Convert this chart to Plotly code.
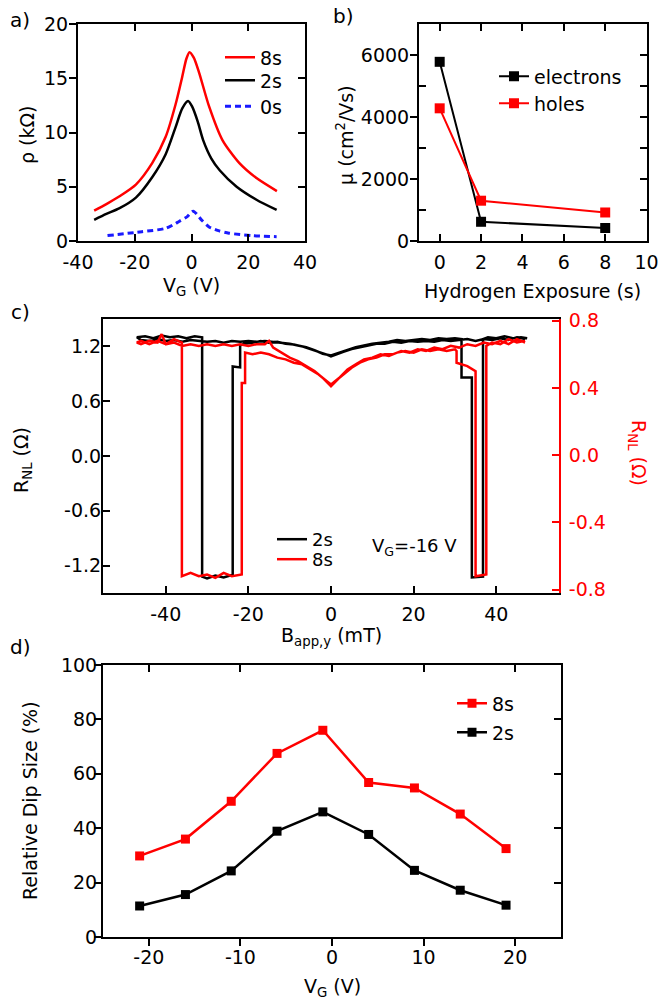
import plotly.graph_objects as go

W, H = 659, 1001
FONT = "DejaVu Sans, Liberation Sans, Arial"
RED = "#ff0000"
BLUE = "#1a1aff"

# ---------------- panel a data ----------------
a_x_8s = [-34.3, -30.0, -25.5, -19.6, -13.8, -9.1, -5.6, -3.3, -1.8, -0.7, 0.8, 2.7, 6.2, 10.9, 16.8, 22.9, 30.1]
a_y_8s = [2.8, 3.4, 4.1, 5.2, 7.2, 9.6, 12.6, 15.1, 16.8, 17.4, 16.9, 15.5, 12.4, 9.3, 7.2, 5.8, 4.6]
a_x_2s = [-34.3, -30.0, -25.5, -19.6, -13.8, -9.1, -5.6, -3.3, -1.2, 0.2, 2.2, 4.1, 7.0, 10.0, 15.9, 22.9, 30.0]
a_y_2s = [1.95, 2.5, 3.0, 4.0, 5.9, 8.0, 10.5, 12.2, 12.9, 12.4, 11.0, 9.3, 7.6, 6.5, 5.0, 3.8, 2.86]
a_x_0s = [-29.6, -17.5, -9.1, -4.4, -1.5, 0.6, 3.5, 6.2, 9.5, 13.2, 21.5, 30.0]
a_y_0s = [0.5, 0.86, 1.17, 1.8, 2.25, 2.75, 1.95, 1.3, 0.95, 0.72, 0.5, 0.4]
a_xticks = [-40, -20, 0, 20, 40]
a_xticktext = ["-40", "-20", "0", "20", "40"]
a_yticks = [0, 5, 10, 15, 20]

# ---------------- panel b data ----------------
b_exposure = [0, 2, 8]
b_electrons = [5780, 620, 420]
b_holes = [4280, 1300, 920]
b_xticks = [0, 2, 4, 6, 8, 10]
b_xticktext = ["0", "2", "4", "6", "8", "10"]
b_yticks = [0, 2000, 4000, 6000]
b_yminor = [1000, 3000, 5000]

# ---------------- panel c data ----------------
# 2s (left axis): sweep down then sweep up
c2_field_down = [47, 45, 43, 41, 39, 37, 35, 33, 31, 29, 27, 25, 23, 21, 19, 17, 15, 13, 11, 9, 7, 5, 3, 1, 0,
                 -1, -3, -5, -7, -9, -11, -13, -15, -17, -19, -21, -22, -22, -23.8, -23.8, -26, -28, -30,
                 -31.2, -31.2, -33, -35, -37, -39, -41, -43, -45, -47]
c2_rnl_down = [1.28, 1.30, 1.27, 1.29, 1.27, 1.28, 1.26, 1.28, 1.27, 1.26, 1.27, 1.25, 1.26, 1.25, 1.26, 1.24,
               1.25, 1.23, 1.23, 1.21, 1.19, 1.17, 1.14, 1.11, 1.09,
               1.11, 1.14, 1.17, 1.20, 1.22, 1.23, 1.25, 1.24, 1.26, 1.24, 1.23, 1.21, 0.97, 0.98, -1.30,
               -1.33, -1.31, -1.34, -1.32, 1.30, 1.31, 1.29, 1.31, 1.30, 1.32, 1.29, 1.31, 1.30]
c2_field_up = [-46, -44, -42, -40, -38, -36, -34, -32, -30, -28, -26, -24, -22, -20, -18, -16, -14, -12, -10,
               -8, -6, -4, -2, 0, 2, 4, 6, 8, 10, 12, 14, 16, 18, 20, 22, 24, 26, 28, 30, 31.6, 31.6, 34.1,
               34.1, 36.8, 36.8, 38, 40, 42, 44, 46, 47.5]
c2_rnl_up = [1.27, 1.26, 1.28, 1.26, 1.27, 1.25, 1.27, 1.26, 1.25, 1.26, 1.24, 1.26, 1.25, 1.26, 1.25, 1.26,
             1.25, 1.24, 1.23, 1.21, 1.19, 1.16, 1.12, 1.10, 1.13, 1.16, 1.19, 1.21, 1.23, 1.24, 1.25, 1.27,
             1.26, 1.27, 1.28, 1.27, 1.29, 1.28, 1.29, 1.28, 0.86, 0.86, -1.33, -1.32, 1.28, 1.30, 1.29,
             1.31, 1.29, 1.30, 1.29]
# 8s (right axis)
c8_field_down = [47, 45, 43, 41, 39, 37, 35, 33, 31, 29, 27, 25, 23, 21, 19, 17, 15, 13, 11, 9, 7, 5, 3, 1, 0,
                 -1, -3, -5, -7, -9, -11, -13, -15, -17, -19, -20.8, -20.8, -21.6, -21.6, -24, -26, -28, -30,
                 -32, -34, -36.1, -36.1, -38, -40, -42, -44, -46, -47]
c8_rnl_down = [0.67, 0.69, 0.66, 0.68, 0.66, 0.67, 0.65, 0.66, 0.64, 0.65, 0.63, 0.64, 0.62, 0.63, 0.61, 0.62,
               0.60, 0.60, 0.58, 0.57, 0.55, 0.52, 0.48, 0.44, 0.42,
               0.44, 0.48, 0.51, 0.54, 0.55, 0.57, 0.58, 0.60, 0.61, 0.60, 0.61, 0.43, 0.43, -0.71, -0.72,
               -0.70, -0.73, -0.71, -0.72, -0.70, -0.72, 0.67, 0.69, 0.66, 0.68, 0.66, 0.68, 0.67]
c8_field_up = [-46, -44, -42, -41, -40, -38, -36, -34, -32, -30, -28, -26, -24, -22, -20, -18, -16, -15, -14,
               -12, -10, -8, -6, -4, -2, 0, 2, 4, 6, 8, 10, 12, 14, 16, 18, 20, 22, 24, 26, 28, 30, 30.4, 30.4,
               33, 35, 35, 37.6, 37.6, 39, 41, 43, 45, 47]
c8_rnl_up = [0.66, 0.68, 0.67, 0.72, 0.66, 0.67, 0.65, 0.66, 0.65, 0.66, 0.65, 0.66, 0.65, 0.66, 0.65, 0.66,
             0.66, 0.68, 0.64, 0.61, 0.58, 0.56, 0.53, 0.50, 0.46, 0.41, 0.46, 0.51, 0.54, 0.57, 0.58, 0.60,
             0.59, 0.61, 0.62, 0.61, 0.63, 0.62, 0.63, 0.62, 0.63, 0.62, 0.55, 0.53, 0.50, -0.72, -0.71, 0.65,
             0.67, 0.66, 0.69, 0.67, 0.68]
c_xticks = [-40, -20, 0, 20, 40]
c_xticktext = ["-40", "-20", "0", "20", "40"]
c_left_ticks = [-1.2, -0.6, 0.0, 0.6, 1.2]
c_left_text = ["-1.2", "-0.6", "0.0", "0.6", "1.2"]
c_right_ticks = [-0.8, -0.4, 0.0, 0.4, 0.8]
c_right_text = ["-0.8", "-0.4", "0.0", "0.4", "0.8"]

# ---------------- panel d data ----------------
d_vg = [-21, -16, -11, -6, -1, 4, 9, 14, 19]
d_dip_8s = [29.8, 36.0, 49.9, 67.5, 76.0, 56.8, 54.8, 45.2, 32.5]
d_dip_2s = [11.4, 15.6, 24.3, 38.9, 46.0, 37.7, 24.5, 17.2, 11.7]
d_xticks = [-20, -10, 0, 10, 20]
d_xticktext = ["-20", "-10", "0", "10", "20"]
d_yticks = [0, 20, 40, 60, 80, 100]


def xd(a, b):
    return [a / W, b / W]


def yd(top, bottom):
    return [1 - bottom / H, 1 - top / H]


fig = go.Figure()

# panel a
fig.add_trace(go.Scatter(x=a_x_8s, y=a_y_8s, mode="lines", name="8s",
                         line=dict(color=RED, width=2.5, shape="spline", smoothing=0.7),
                         xaxis="x", yaxis="y", legend="legend"))
fig.add_trace(go.Scatter(x=a_x_2s, y=a_y_2s, mode="lines", name="2s",
                         line=dict(color="black", width=2.5, shape="spline", smoothing=0.7),
                         xaxis="x", yaxis="y", legend="legend2"))
fig.add_trace(go.Scatter(x=a_x_0s, y=a_y_0s, mode="lines", name="0s",
                         line=dict(color=BLUE, width=3, dash="6px,4px", shape="spline", smoothing=0.7),
                         xaxis="x", yaxis="y", legend="legend3"))
# panel b
fig.add_trace(go.Scatter(x=b_exposure, y=b_electrons, mode="lines+markers", name="electrons",
                         line=dict(color="black", width=2), marker=dict(symbol="square", size=10, color="black"),
                         xaxis="x2", yaxis="y2", legend="legend4"))
fig.add_trace(go.Scatter(x=b_exposure, y=b_holes, mode="lines+markers", name="holes",
                         line=dict(color=RED, width=2), marker=dict(symbol="square", size=10, color=RED),
                         xaxis="x2", yaxis="y2", legend="legend5"))
# panel c
fig.add_trace(go.Scatter(x=c2_field_down + c2_field_up, y=c2_rnl_down + c2_rnl_up, mode="lines", name="2s",
                         line=dict(color="black", width=2.5), xaxis="x3", yaxis="y3", legend="legend6"))
fig.add_trace(go.Scatter(x=c8_field_down + c8_field_up, y=c8_rnl_down + c8_rnl_up, mode="lines", name="8s",
                         line=dict(color=RED, width=2.5), xaxis="x3", yaxis="y7", legend="legend7"))
# panel d
fig.add_trace(go.Scatter(x=d_vg, y=d_dip_8s, mode="lines+markers", name="8s",
                         line=dict(color=RED, width=2.5), marker=dict(symbol="square", size=9, color=RED),
                         xaxis="x4", yaxis="y4", legend="legend8"))
fig.add_trace(go.Scatter(x=d_vg, y=d_dip_2s, mode="lines+markers", name="2s",
                         line=dict(color="black", width=2.5), marker=dict(symbol="square", size=9, color="black"),
                         xaxis="x4", yaxis="y4", legend="legend9"))
# empty traces that register the mirror-tick overlay axes
for xa, ya in [("x5", "y5"), ("x6", "y6"), ("x8", "y8")]:
    fig.add_trace(go.Scatter(x=[], y=[], xaxis=xa, yaxis=ya, showlegend=False, hoverinfo="skip"))

tickfont = dict(family=FONT, size=19, color="black")


def prim(domain, rng, ticks="outside", mirror=True, **kw):
    d = dict(domain=domain, range=rng, showline=True, linecolor="black", linewidth=2, mirror=mirror,
             ticks=ticks, ticklen=7, tickwidth=2, tickcolor="black", showgrid=False, zeroline=False,
             tickfont=tickfont, fixedrange=True, automargin=False)
    d.update(kw)
    return d


def over(ov, side, anchor, rng, **kw):
    d = dict(overlaying=ov, side=side, anchor=anchor, range=rng, showline=False, ticks="inside", ticklen=7,
             tickwidth=2, tickcolor="black", showticklabels=False, showgrid=False, zeroline=False,
             fixedrange=True, automargin=False)
    d.update(kw)
    return d


def leg(px_left, py_center, size=19):
    off = 18.5 if size >= 19 else 17
    return dict(x=(px_left - 6) / W, y=1 - (py_center - off) / H, xanchor="left", yanchor="top",
                bgcolor="rgba(0,0,0,0)", borderwidth=0, font=dict(family=FONT, size=size, color="black"))


a_xr, a_yr = [-40, 40], [0, 20]
b_xr, b_yr = [-1, 10.02], [0, 7000]
c_xr, c_yr, c_yr2 = [-55.2, 55.2], [-1.5, 1.5], [-0.82, 0.81]
d_xr, d_yr = [-25, 25], [0, 100]

fig.update_layout(
    template="none",
    width=W, height=H, margin=dict(l=0, r=0, t=0, b=0, pad=0), autosize=False,
    paper_bgcolor="white", plot_bgcolor="white",
    font=dict(family=FONT, size=19, color="black"),
    xaxis=prim(xd(78, 305), a_xr, anchor="y", ticks="inside", tickvals=a_xticks, ticktext=a_xticktext,
               ticklabelstandoff=3),
    yaxis=prim(yd(24, 241), a_yr, anchor="x", tickvals=a_yticks, ticklabelstandoff=-3),
    xaxis5=over("x", "top", "y", a_xr, tickvals=a_xticks),
    yaxis5=over("y", "right", "x", a_yr, tickvals=a_yticks),
    xaxis2=prim(xd(419, 647), b_xr, anchor="y2", ticks="inside", tickvals=b_xticks, ticktext=b_xticktext,
                ticklabelstandoff=3),
    yaxis2=prim(yd(24, 241), b_yr, anchor="x2", tickvals=b_yticks, ticklabelstandoff=-3,
                minor=dict(tickmode="array", tickvals=b_yminor, ticks="inside", ticklen=7, tickwidth=2,
                           tickcolor="black")),
    xaxis6=over("x2", "top", "y2", b_xr, tickvals=b_xticks),
    yaxis6=over("y2", "right", "x2", b_yr, tickvals=b_yticks + b_yminor),
    xaxis3=prim(xd(103, 559), c_xr, anchor="y3", ticks="inside", tickvals=c_xticks, ticktext=c_xticktext,
                ticklabelstandoff=3),
    yaxis3=prim(yd(319, 593), c_yr, anchor="x3", ticks="inside", mirror=False, tickvals=c_left_ticks,
                ticktext=c_left_text, ticklabelstandoff=-4),
    yaxis7=dict(overlaying="y3", side="right", anchor="x3", range=c_yr2, showline=True, linecolor=RED, linewidth=2,
                ticks="inside", ticklen=7, tickwidth=2, tickcolor=RED, tickvals=c_right_ticks,
                ticktext=c_right_text, ticklabelstandoff=4,
                tickfont=dict(family=FONT, size=19, color=RED), showgrid=False, zeroline=False,
                fixedrange=True, automargin=False),
    xaxis4=prim(xd(103, 561), d_xr, anchor="y4", tickvals=d_xticks, ticktext=d_xticktext, ticklabelstandoff=-5),
    yaxis4=prim(yd(665, 937), d_yr, anchor="x4", tickvals=d_yticks, ticklabelstandoff=-7),
    xaxis8=over("x4", "top", "y4", d_xr, tickvals=d_xticks),
    yaxis8=over("y4", "right", "x4", d_yr, tickvals=d_yticks),
    showlegend=True,
    legend=leg(226, 57),
    legend2=leg(226, 80),
    legend3=leg(226, 106),
    legend4=leg(500, 76),
    legend5=leg(500, 103),
    legend6=leg(278, 538, size=18),
    legend7=leg(278, 558, size=18),
    legend8=leg(458, 703),
    legend9=leg(458, 732),
)


def ann(text, px, py, size=19, angle=0, color="black"):
    fig.add_annotation(text=text, x=px / W, y=1 - py / H, xref="paper", yref="paper", showarrow=False,
                       xanchor="center", yanchor="middle", textangle=angle,
                       font=dict(family=FONT, size=size, color=color))


ann("a)", 20, 20, size=20)
ann("b)", 343, 16, size=20)
ann("c)", 20, 312, size=20)
ann("d)", 20, 647, size=20)
ann("V<sub>G</sub> (V)", 191, 287)
ann("ρ (kΩ)", 27, 135, angle=-90)
ann("Hydrogen Exposure (s)", 532, 291)
ann("μ (cm<sup>2</sup>/Vs)", 345, 135, angle=-90)
ann("B<sub>app,y</sub> (mT)", 331, 636)
ann("R<sub>NL</sub> (Ω)", 22, 460, angle=-90)
ann("R<sub>NL</sub> (Ω)", 638, 453, angle=90, color=RED)
ann("V<sub>G</sub>=-16 V", 414, 547, size=18)
ann("V<sub>G</sub> (V)", 332, 987)
ann("Relative Dip Size (%)", 30, 801, angle=-90)

fig.write_html("out.html", config={"displayModeBar": False},
               post_script="document.body.style.margin='0';")
